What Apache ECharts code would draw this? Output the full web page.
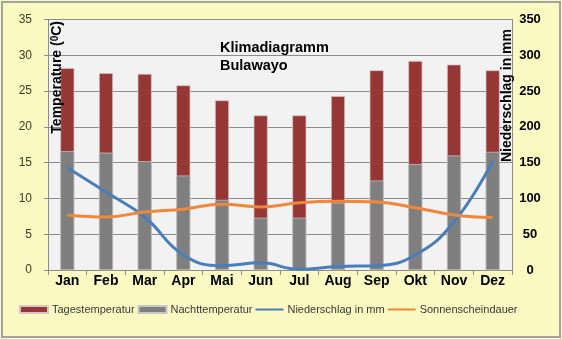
<!DOCTYPE html>
<html>
<head>
<meta charset="utf-8">
<script src="https://cdn.jsdelivr.net/npm/echarts@6/dist/echarts.min.js"></script>
<style>
  html, body { margin: 0; padding: 0; background: #f9f9c1; }
  #chart { width: 562px; height: 339px; }
</style>
</head>
<body>
<div id="chart"></div>
<script>
// Monthly climate values for Bulawayo
const months = ['Jan', 'Feb', 'Mar', 'Apr', 'Mai', 'Jun', 'Jul', 'Aug', 'Sep', 'Okt', 'Nov', 'Dez'];
const dayTemp = [28.2, 27.5, 27.4, 25.8, 23.7, 21.6, 21.6, 24.3, 27.9, 29.2, 28.7, 27.9];
const nightTemp = [16.6, 16.4, 15.2, 13.2, 9.8, 7.3, 7.3, 9.4, 12.5, 14.8, 16.0, 16.5];
const rainfall = [143, 109, 74, 21, 6, 10, 1, 5, 6, 21, 67, 152];
const sunshine = [7.7, 7.4, 8.1, 8.5, 9.2, 8.8, 9.4, 9.6, 9.5, 8.7, 7.7, 7.35];
const tempTicks = { min: 0, max: 35, interval: 5 };
const rainTicks = { min: 0, max: 350, interval: 50 };

const chart = echarts.init(document.getElementById('chart'), null, { renderer: 'canvas' });

const gridColor = '#8c8c8c';
const labelFont = 'Liberation Sans, Arial, sans-serif';
// thin horizontal stroke used as the legend key of the line series
const lineIcon = 'path://M0,0 H28 V2 H0 Z';

chart.setOption({
  backgroundColor: '#f9f9c1',
  animation: false,
  grid: { left: 48, right: 50, top: 19.5, bottom: 69, show: true, backgroundColor: '#f2f2f2', borderWidth: 0 },
  legend: {
    bottom: 19,
    left: 14,
    itemWidth: 28,
    itemHeight: 7,
    itemGap: 3,
    symbolKeepAspect: true,
    textStyle: { fontFamily: labelFont, fontSize: 11, color: '#383838', padding: [0, 0, 0, -1] },
    data: [
      { name: 'Tagestemperatur', icon: 'rect' },
      { name: 'Nachttemperatur', icon: 'rect' },
      { name: 'Niederschlag in mm', icon: lineIcon },
      { name: 'Sonnenscheindauer', icon: lineIcon }
    ]
  },
  xAxis: {
    type: 'category',
    data: months,
    boundaryGap: true,
    axisLine: { lineStyle: { color: gridColor, width: 1 } },
    axisTick: { show: true, length: 5, lineStyle: { color: gridColor } },
    axisLabel: { fontFamily: labelFont, fontSize: 14, fontWeight: 'bold', color: '#000', margin: 4 }
  },
  yAxis: [
    {
      type: 'value',
      min: tempTicks.min, max: tempTicks.max, interval: tempTicks.interval,
      axisLine: { show: true, lineStyle: { color: gridColor } },
      axisTick: { show: true, length: 4, lineStyle: { color: gridColor } },
      splitLine: { lineStyle: { color: gridColor, width: 1 } },
      axisLabel: { fontFamily: labelFont, fontSize: 12, color: '#3d3d2a', margin: 16 }
    },
    {
      type: 'value',
      min: rainTicks.min, max: rainTicks.max, interval: rainTicks.interval,
      axisLine: { show: true, lineStyle: { color: gridColor } },
      axisTick: { show: false },
      splitLine: { show: false },
      axisLabel: { fontFamily: labelFont, fontSize: 13, fontWeight: 'bold', color: '#000', margin: 18, align: 'center' }
    }
  ],
  series: [
    {
      name: 'Tagestemperatur',
      type: 'bar',
      data: dayTemp,
      barWidth: 14,
      barGap: '-100%',
      itemStyle: { color: '#953735', borderColor: '#d9c4c4', borderWidth: 0.7 },
      z: 2
    },
    {
      name: 'Nachttemperatur',
      type: 'bar',
      data: nightTemp,
      barWidth: 14,
      barGap: '-100%',
      itemStyle: { color: '#7f7f7f', borderColor: '#c8c8c8', borderWidth: 0.7 },
      z: 3
    },
    {
      name: 'Niederschlag in mm',
      type: 'line',
      yAxisIndex: 1,
      data: rainfall,
      smooth: 0.45,
      symbol: 'none',
      lineStyle: { color: '#4a7ebb', width: 3 },
      itemStyle: { color: '#4a7ebb' },
      z: 4
    },
    {
      name: 'Sonnenscheindauer',
      type: 'line',
      data: sunshine,
      smooth: 0.45,
      symbol: 'none',
      lineStyle: { color: '#f0873a', width: 3 },
      itemStyle: { color: '#f0873a' },
      z: 5
    }
  ],
  graphic: [
    {
      type: 'rect',
      shape: { x: 2, y: 2, width: 558, height: 335 },
      style: { fill: 'none', stroke: '#a3a3a3', lineWidth: 2 },
      silent: true, z: 100
    },
    {
      type: 'text',
      x: 50, y: 21,
      rotation: Math.PI / 2,
      style: {
        text: 'Temperature ({s|0}C)',
        font: 'bold 14px ' + labelFont,
        fill: '#000',
        align: 'right',
        verticalAlign: 'top',
        rich: { s: { font: 'bold 10px ' + labelFont, fill: '#000', verticalAlign: 'top', padding: [0, 0, 5, 0] } }
      },
      z: 50
    },
    {
      type: 'text',
      x: 500, y: 29,
      rotation: Math.PI / 2,
      style: {
        text: 'Niederschlag in mm',
        font: 'bold 14px ' + labelFont,
        fill: '#000',
        align: 'right',
        verticalAlign: 'top'
      },
      z: 50
    },
    {
      type: 'text',
      x: 220, y: 39,
      style: {
        text: 'Klimadiagramm\nBulawayo',
        font: 'bold 14.5px ' + labelFont,
        fill: '#000',
        lineHeight: 18
      },
      z: 50
    }
  ]
});
</script>
</body>
</html>
